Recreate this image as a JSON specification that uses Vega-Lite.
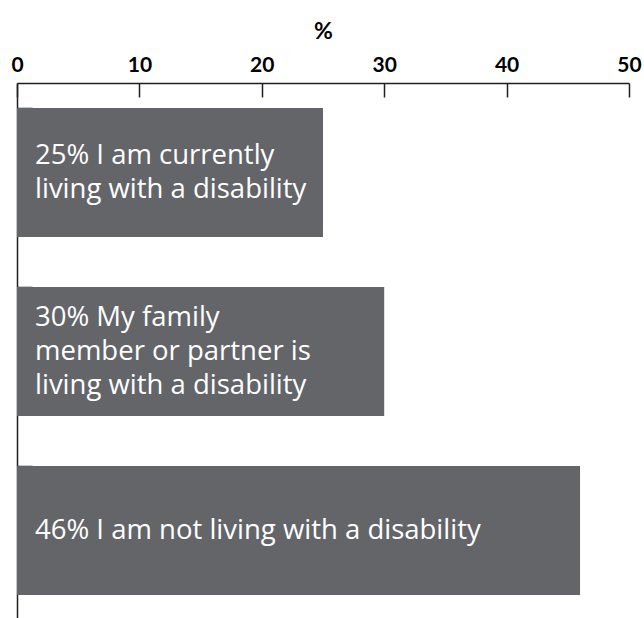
{
  "$schema": "https://vega.github.io/schema/vega-lite/v6.json",
  "width": 612,
  "height": 537,
  "autosize": "none",
  "padding": {"left": 17, "top": 83, "right": 15, "bottom": 0},
  "background": "white",
  "config": {"view": {"stroke": null}},
  "data": {
    "values": [
      {"category": "current", "value": 25, "lines": 2, "label": "25% I am currently\nliving with a disability"},
      {"category": "family", "value": 30, "lines": 3, "label": "30% My family\nmember or partner is\nliving with a disability"},
      {"category": "not", "value": 46, "lines": 1, "label": "46% I am not living with a disability"}
    ]
  },
  "encoding": {
    "y": {
      "field": "category",
      "type": "nominal",
      "sort": null,
      "scale": {"paddingInner": 0.28, "paddingOuter": 0.14},
      "axis": {
        "orient": "left",
        "title": null,
        "labels": false,
        "bandPosition": 0,
        "tickSize": -15,
        "tickWidth": 1.5,
        "tickColor": "#231f20",
        "domainColor": "#231f20",
        "domainWidth": 1.5,
        "grid": false
      }
    }
  },
  "layer": [
    {
      "mark": {"type": "bar", "color": "#636569"},
      "encoding": {
        "x": {
          "field": "value",
          "type": "quantitative",
          "scale": {"domain": [0, 50], "nice": false},
          "axis": {
            "orient": "top",
            "values": [0, 10, 20, 30, 40, 50],
            "title": "%",
            "titleFont": "Lato",
            "titleFontSize": 23,
            "titleFontWeight": "bold",
            "titleColor": "#000000",
            "titlePadding": 11,
            "labelFont": "Lato",
            "labelFontSize": 21,
            "labelFontWeight": "bold",
            "labelColor": "#000000",
            "labelPadding": 22,
            "labelFlush": false,
            "tickSize": -14,
            "tickWidth": 1.5,
            "tickColor": "#231f20",
            "domainColor": "#231f20",
            "domainWidth": 1.5,
            "grid": false
          }
        }
      }
    },
    {
      "transform": [{"filter": "datum.lines == 1"}],
      "mark": {"type": "text", "align": "left", "baseline": "middle", "dx": 18, "dy": 0, "lineBreak": "\n", "lineHeight": 34, "font": "Open Sans", "fontSize": 27.5, "color": "#ffffff"},
      "encoding": {"x": {"datum": 0, "type": "quantitative"}, "text": {"field": "label"}}
    },
    {
      "transform": [{"filter": "datum.lines == 2"}],
      "mark": {"type": "text", "align": "left", "baseline": "middle", "dx": 18, "dy": -17, "lineBreak": "\n", "lineHeight": 34, "font": "Open Sans", "fontSize": 27.5, "color": "#ffffff"},
      "encoding": {"x": {"datum": 0, "type": "quantitative"}, "text": {"field": "label"}}
    },
    {
      "transform": [{"filter": "datum.lines == 3"}],
      "mark": {"type": "text", "align": "left", "baseline": "middle", "dx": 18, "dy": -34, "lineBreak": "\n", "lineHeight": 34, "font": "Open Sans", "fontSize": 27.5, "color": "#ffffff"},
      "encoding": {"x": {"datum": 0, "type": "quantitative"}, "text": {"field": "label"}}
    }
  ]
}
